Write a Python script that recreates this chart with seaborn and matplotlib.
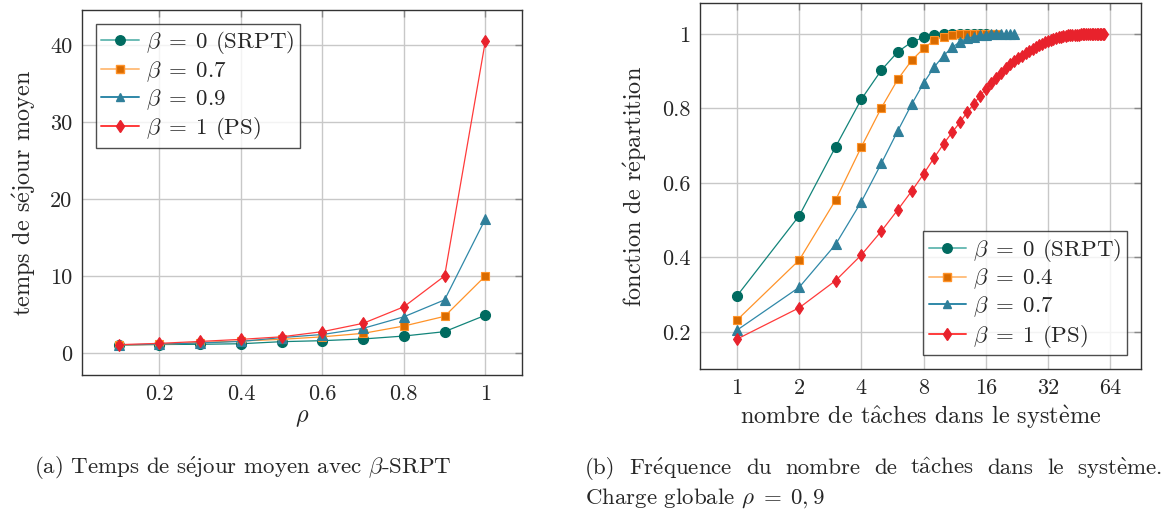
import numpy as np
import pandas as pd
import matplotlib
matplotlib.use("Agg")
import matplotlib.pyplot as plt
import seaborn as sns
from matplotlib.lines import Line2D

# ---------------- data: left panel (mean sojourn time vs load) ----------------
rho = [0.1, 0.2, 0.3, 0.4, 0.5, 0.6, 0.7, 0.8, 0.9, 1.0]
t_srpt = [1.04, 1.10, 1.13, 1.20, 1.47, 1.60, 1.82, 2.20, 2.77, 4.90]
t_b07 = [1.04, 1.12, 1.34, 1.56, 1.77, 2.10, 2.55, 3.50, 4.76, 10.0]
t_b09 = [1.05, 1.15, 1.30, 1.50, 2.00, 2.40, 3.20, 4.70, 6.90, 17.4]
t_ps = [1.08, 1.25, 1.50, 1.77, 2.10, 2.77, 3.85, 6.00, 10.0, 40.5]
left_labels = [r"$\beta\;=\;0$ (SRPT)", r"$\beta\;=\;0.7$", r"$\beta\;=\;0.9$", r"$\beta\;=\;1$ (PS)"]

# ---------------- data: right panel (CDF of number of jobs) ----------------
cdf_srpt = [0.297, 0.512, 0.697, 0.825, 0.903, 0.952, 0.978, 0.991, 0.997, 0.999,
            1.0, 1.0, 1.0, 1.0, 1.0, 1.0]
cdf_b04 = [0.232, 0.393, 0.554, 0.697, 0.802, 0.878, 0.929, 0.961, 0.983, 0.993,
           0.997, 0.999, 1.0, 1.0, 1.0, 1.0, 1.0, 1.0]
cdf_b07 = [0.205, 0.320, 0.435, 0.550, 0.653, 0.740, 0.811, 0.868, 0.911, 0.942,
           0.964, 0.979, 0.988, 0.993, 0.996, 0.998, 0.999, 1.0, 1.0, 1.0, 1.0, 1.0]
cdf_ps = [0.181, 0.265, 0.338, 0.407, 0.471, 0.528, 0.578, 0.624, 0.668, 0.705,
          0.736, 0.763, 0.790, 0.812, 0.834, 0.852, 0.868, 0.883, 0.896, 0.908,
          0.918, 0.927, 0.935, 0.942, 0.948, 0.954, 0.960, 0.965, 0.970, 0.974,
          0.978, 0.981, 0.984, 0.987, 0.989, 0.991, 0.993, 0.994, 0.995, 0.996,
          0.997, 0.997, 0.998, 0.998, 0.998, 0.999, 0.999, 0.999, 0.999, 0.999,
          1.0, 1.0, 1.0, 1.0, 1.0, 1.0, 1.0, 1.0, 1.0, 1.0]
right_labels = [r"$\beta\;=\;0$ (SRPT)", r"$\beta\;=\;0.4$", r"$\beta\;=\;0.7$", r"$\beta\;=\;1$ (PS)"]

x_ticks_left = [0.2, 0.4, 0.6, 0.8, 1.0]
x_ticklabels_left = ["0.2", "0.4", "0.6", "0.8", "1"]
y_ticks_left = [0, 10, 20, 30, 40]
x_ticks_right = [1, 2, 4, 8, 16, 32, 64]
y_ticks_right = [0.2, 0.4, 0.6, 0.8, 1.0]
y_ticklabels_right = ["0.2", "0.4", "0.6", "0.8", "1"]

ylabel_left = "temps de séjour moyen"
xlabel_right = "nombre de tâches dans le système"
ylabel_right = "fonction de répartition"
caption_a = "(a) Temps de séjour moyen avec $\\beta$-SRPT"
caption_b1 = "(b) Fréquence du nombre de tâches dans le système."
caption_b2 = "Charge globale $\\rho\\;=\\;0,9$"

# ---------------- styles ----------------
styles = [
    dict(marker="o", color="#12847a", mfc="#006b60", mec="#006b60", ms=7.2, legc="#6cbcb5"),
    dict(marker="s", color="#ff9329", mfc="#d96b00", mec="#ff9329", ms=6.4, legc="#ffc080"),
    dict(marker="^", color="#2f88a8", mfc="#2f7f9a", mec="#2f7f9a", ms=6.8, legc="#2f88a8"),
    dict(marker="d", color="#ff3a3a", mfc="#e8222c", mec="#e8222c", ms=6.4, legc="#ff3a3a"),
]

sns.set_style("white")
plt.rcParams["font.family"] = ["cmr10", "DejaVu Serif"]
plt.rcParams["mathtext.fontset"] = "cm"
plt.rcParams["axes.formatter.use_mathtext"] = True
plt.rcParams["axes.unicode_minus"] = False

ACC = {"é": r"$\acute{\mathrm{e}}$", "è": r"$\grave{\mathrm{e}}$", "â": r"$\hat{\mathrm{a}}$"}

def tex(s):
    return "".join(ACC.get(c, c) for c in s)

W, H = 1169, 516
fig = plt.figure(figsize=(W / 100, H / 100), dpi=100)

def box(l, r, t, b):
    return [l / W, 1 - b / H, (r - l) / W, (b - t) / H]

axL = fig.add_axes(box(82, 522, 10, 375))
axR = fig.add_axes(box(700, 1141, 3, 369))

TICK_FS = 16
LAB_FS = 17.5
LEG_FS = 16.5
CAP_FS = 16.5
GRID_C = "#c8c8c8"

def style_axes(ax):
    ax.grid(True, color=GRID_C, lw=1.0)
    ax.set_axisbelow(True)
    for s in ax.spines.values():
        s.set_color("#333333")
        s.set_linewidth(1.0)
    ax.tick_params(direction="in", length=5, width=1.0, color="#888888",
                   top=True, right=True, labelsize=TICK_FS, pad=7)

# left panel
series_left = [t_srpt, t_b07, t_b09, t_ps]
for vals, st in zip(series_left, styles):
    df = pd.DataFrame({"rho": rho, "t": vals})
    sns.lineplot(data=df, x="rho", y="t", ax=axL, color=st["color"], lw=0.9,
                 marker=st["marker"], markersize=st["ms"], markerfacecolor=st["mfc"],
                 markeredgecolor=st["mec"], markeredgewidth=0.8)
axL.set_xlim(0.01, 1.09)
axL.set_ylim(-2.86, 44.55)
axL.set_xticks(x_ticks_left)
axL.set_xticklabels(x_ticklabels_left)
axL.set_yticks(y_ticks_left)
axL.set_yticklabels([str(v) for v in y_ticks_left])
axL.set_xlabel(r"$\rho$", fontsize=LAB_FS, labelpad=2)
axL.set_ylabel(tex(ylabel_left), fontsize=LAB_FS, labelpad=9)
style_axes(axL)

# right panel
series_right = [cdf_srpt, cdf_b04, cdf_b07, cdf_ps]
for vals, st in zip(series_right, styles):
    n = np.arange(1, len(vals) + 1)
    df = pd.DataFrame({"n": n, "p": vals})
    sns.lineplot(data=df, x="n", y="p", ax=axR, color=st["color"], lw=0.9,
                 marker=st["marker"], markersize=st["ms"], markerfacecolor=st["mfc"],
                 markeredgecolor=st["mec"], markeredgewidth=0.8)
axR.set_xscale("log", base=2)
axR.set_xlim(2 ** -0.595, 2 ** 6.495)
axR.set_ylim(0.1007, 1.083)
axR.set_xticks(x_ticks_right)
axR.set_xticklabels([str(v) for v in x_ticks_right])
axR.minorticks_off()
axR.set_yticks(y_ticks_right)
axR.set_yticklabels(y_ticklabels_right)
axR.set_xlabel(tex(xlabel_right), fontsize=LAB_FS, labelpad=4)
axR.set_ylabel(tex(ylabel_right), fontsize=LAB_FS, labelpad=9)
style_axes(axR)

def make_handles(labels):
    hs = []
    for st, lab in zip(styles, labels):
        hs.append(Line2D([0], [0], color=st["legc"], lw=1.4, marker=st["marker"],
                         markersize=st["ms"] * 0.95, markerfacecolor=st["mfc"],
                         markeredgecolor=st["mec"], label=lab))
    return hs

for ax, labels, loc in [(axL, left_labels, "upper left"), (axR, right_labels, "lower right")]:
    leg = ax.legend(handles=make_handles(labels), loc=loc, fontsize=LEG_FS,
                    frameon=True, fancybox=False, edgecolor="#222222",
                    handlelength=1.65, handletextpad=0.3, borderpad=0.25,
                    labelspacing=0.14, borderaxespad=0.6)
    leg.get_frame().set_linewidth(1.0)

fig.text(243 / W, 1 - 468 / H, tex(caption_a), ha="center", va="center", fontsize=CAP_FS)

# justified first line of caption (b): words spread between x=585 and x=1162
renderer = fig.canvas.get_renderer()
words = caption_b1.split(" ")
objs = [fig.text(0, 1 - 468 / H, tex(w), ha="left", va="center", fontsize=CAP_FS) for w in words]
widths = [o.get_window_extent(renderer=renderer).width for o in objs]
x0, x1 = 585.0, 1162.0
gap = (x1 - x0 - sum(widths)) / (len(words) - 1)
xc = x0
for o, w in zip(objs, widths):
    o.set_x(xc / W)
    xc += w + gap
fig.text(585 / W, 1 - 498 / H, tex(caption_b2), ha="left", va="center", fontsize=CAP_FS)

fig.savefig("out.png", dpi=100)
